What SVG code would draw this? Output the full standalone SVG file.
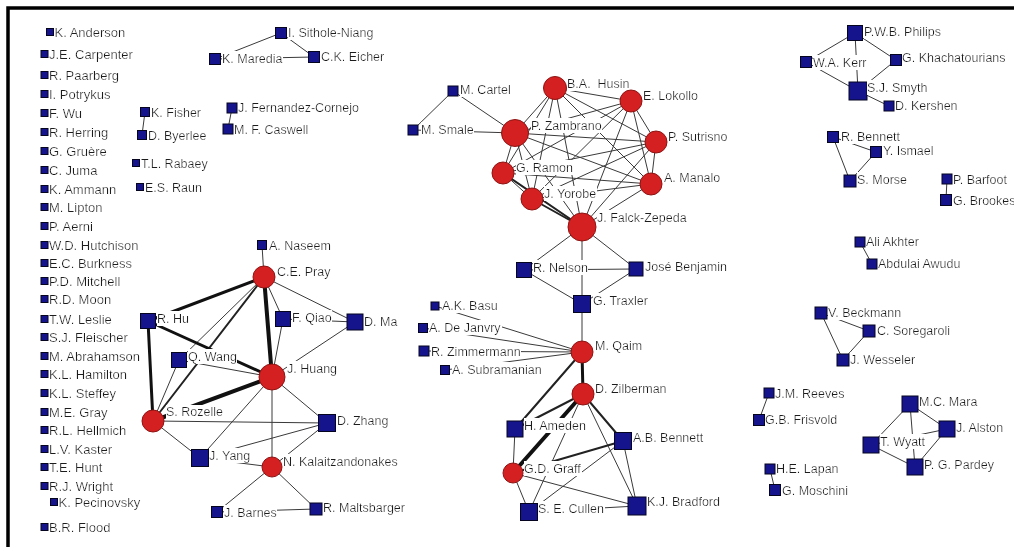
<svg xmlns="http://www.w3.org/2000/svg" width="1014" height="547" viewBox="0 0 1014 547">
<defs>
<filter id="tb" x="0" y="0.02" width="1" height="0.96"><feFlood flood-color="#fff"/><feComposite in="SourceGraphic"/></filter>
</defs>
<style>
.sq{fill:#16148c;stroke:#050520;stroke-width:1}
.ci{fill:#d42020;stroke:#8e1414;stroke-width:1}
text{font-family:"Liberation Sans",Arial,sans-serif;font-size:12.5px;fill:#1e1e1e;white-space:pre;filter:url(#tb)}
.lc text{font-size:13px}
#edges line{stroke:#3a3a3a;stroke-width:1;stroke-linecap:round}
#edges line.w2{stroke:#222;stroke-width:2}
#edges line.w3{stroke:#111;stroke-width:3}
#edges line.w4{stroke:#111;stroke-width:4}
.frame{stroke:#000;stroke-width:3.5;fill:none}
</style>
<rect width="1014" height="547" fill="#fff"/>
<path class="frame" d="M8 547 V8 H1014"/>
<g id="edges">
<line x1="281" y1="33" x2="215" y2="59"/>
<line x1="281" y1="33" x2="314" y2="57"/>
<line x1="215" y1="59" x2="314" y2="57"/>
<line x1="145" y1="112" x2="142" y2="135"/>
<line x1="232" y1="108" x2="228" y2="129"/>
<line x1="262" y1="245" x2="264" y2="277"/>
<line class="w3" x1="264" y1="277" x2="148" y2="321"/>
<line x1="264" y1="277" x2="179" y2="360"/>
<line class="w2" x1="264" y1="277" x2="153" y2="421"/>
<line class="w4" x1="264" y1="277" x2="272" y2="377"/>
<line x1="264" y1="277" x2="283" y2="319"/>
<line x1="264" y1="277" x2="355" y2="322"/>
<line x1="283" y1="319" x2="355" y2="322"/>
<line x1="283" y1="319" x2="272" y2="377"/>
<line x1="355" y1="322" x2="272" y2="377"/>
<line class="w3" x1="148" y1="321" x2="272" y2="377"/>
<line class="w3" x1="148" y1="321" x2="153" y2="421"/>
<line x1="179" y1="360" x2="153" y2="421"/>
<line x1="179" y1="360" x2="272" y2="377"/>
<line class="w4" x1="272" y1="377" x2="153" y2="421"/>
<line x1="272" y1="377" x2="200" y2="458"/>
<line x1="272" y1="377" x2="327" y2="423"/>
<line x1="272" y1="377" x2="272" y2="467"/>
<line x1="153" y1="421" x2="327" y2="423"/>
<line x1="153" y1="421" x2="200" y2="458"/>
<line x1="327" y1="423" x2="200" y2="458"/>
<line x1="327" y1="423" x2="272" y2="467"/>
<line x1="200" y1="458" x2="272" y2="467"/>
<line x1="272" y1="467" x2="217" y2="512"/>
<line x1="272" y1="467" x2="316" y2="509"/>
<line x1="217" y1="512" x2="316" y2="509"/>
<line x1="453" y1="91" x2="413" y2="130"/>
<line x1="453" y1="91" x2="515" y2="133"/>
<line x1="413" y1="130" x2="515" y2="133"/>
<line x1="555" y1="88" x2="631" y2="101"/>
<line x1="555" y1="88" x2="515" y2="133"/>
<line x1="555" y1="88" x2="656" y2="142"/>
<line x1="555" y1="88" x2="503" y2="173"/>
<line x1="555" y1="88" x2="651" y2="184"/>
<line x1="555" y1="88" x2="532" y2="199"/>
<line x1="555" y1="88" x2="582" y2="227"/>
<line x1="631" y1="101" x2="515" y2="133"/>
<line x1="631" y1="101" x2="656" y2="142"/>
<line x1="631" y1="101" x2="503" y2="173"/>
<line x1="631" y1="101" x2="651" y2="184"/>
<line x1="631" y1="101" x2="532" y2="199"/>
<line x1="631" y1="101" x2="582" y2="227"/>
<line x1="515" y1="133" x2="656" y2="142"/>
<line x1="515" y1="133" x2="503" y2="173"/>
<line x1="515" y1="133" x2="651" y2="184"/>
<line x1="515" y1="133" x2="532" y2="199"/>
<line x1="515" y1="133" x2="582" y2="227"/>
<line x1="656" y1="142" x2="503" y2="173"/>
<line x1="656" y1="142" x2="651" y2="184"/>
<line x1="656" y1="142" x2="532" y2="199"/>
<line x1="656" y1="142" x2="582" y2="227"/>
<line x1="503" y1="173" x2="651" y2="184"/>
<line x1="503" y1="173" x2="532" y2="199"/>
<line class="w2" x1="503" y1="173" x2="582" y2="227"/>
<line x1="651" y1="184" x2="532" y2="199"/>
<line x1="651" y1="184" x2="582" y2="227"/>
<line class="w2" x1="532" y1="199" x2="582" y2="227"/>
<line x1="582" y1="227" x2="524" y2="270"/>
<line x1="582" y1="227" x2="636" y2="269"/>
<line x1="582" y1="227" x2="582" y2="304"/>
<line x1="524" y1="270" x2="636" y2="269"/>
<line x1="524" y1="270" x2="582" y2="304"/>
<line x1="636" y1="269" x2="582" y2="304"/>
<line x1="582" y1="304" x2="582" y2="352"/>
<line x1="435" y1="306" x2="582" y2="352"/>
<line x1="423" y1="328" x2="582" y2="352"/>
<line x1="424" y1="351" x2="582" y2="352"/>
<line x1="445" y1="370" x2="582" y2="352"/>
<line class="w3" x1="582" y1="352" x2="583" y2="394"/>
<line class="w2" x1="582" y1="352" x2="515" y2="429"/>
<line class="w2" x1="583" y1="394" x2="515" y2="429"/>
<line class="w4" x1="583" y1="394" x2="513" y2="473"/>
<line class="w2" x1="583" y1="394" x2="623" y2="441"/>
<line x1="583" y1="394" x2="637" y2="506"/>
<line x1="583" y1="394" x2="529" y2="512"/>
<line x1="515" y1="429" x2="513" y2="473"/>
<line class="w2" x1="623" y1="441" x2="513" y2="473"/>
<line x1="623" y1="441" x2="529" y2="512"/>
<line x1="623" y1="441" x2="637" y2="506"/>
<line x1="513" y1="473" x2="529" y2="512"/>
<line x1="513" y1="473" x2="637" y2="506"/>
<line x1="529" y1="512" x2="637" y2="506"/>
<line x1="855" y1="33" x2="806" y2="62"/>
<line x1="855" y1="33" x2="896" y2="60"/>
<line x1="855" y1="33" x2="858" y2="91"/>
<line x1="806" y1="62" x2="858" y2="91"/>
<line x1="896" y1="60" x2="858" y2="91"/>
<line x1="858" y1="91" x2="889" y2="106"/>
<line x1="833" y1="137" x2="876" y2="152"/>
<line x1="833" y1="137" x2="850" y2="181"/>
<line x1="876" y1="152" x2="850" y2="181"/>
<line x1="947" y1="179" x2="946" y2="200"/>
<line x1="860" y1="242" x2="872" y2="264"/>
<line x1="821" y1="313" x2="869" y2="331"/>
<line x1="821" y1="313" x2="843" y2="360"/>
<line x1="869" y1="331" x2="843" y2="360"/>
<line x1="769" y1="393" x2="759" y2="420"/>
<line x1="770" y1="469" x2="775" y2="490"/>
<line x1="910" y1="404" x2="947" y2="429"/>
<line x1="910" y1="404" x2="871" y2="445"/>
<line x1="910" y1="404" x2="915" y2="467"/>
<line x1="871" y1="445" x2="915" y2="467"/>
<line x1="947" y1="429" x2="915" y2="467"/>
<line x1="947" y1="429" x2="871" y2="445"/>
</g>
<g class="lc">
<g id="n-anderson"><rect class="sq" x="46.5" y="28.5" width="7" height="7"/><text x="54.5" y="37">K. Anderson</text></g>
<g id="n-carpenter"><rect class="sq" x="41" y="50.5" width="7" height="7"/><text x="49" y="59">J.E. Carpenter</text></g>
<g id="n-paarberg"><rect class="sq" x="41" y="71.5" width="7" height="7"/><text x="49" y="80">R. Paarberg</text></g>
<g id="n-potrykus"><rect class="sq" x="41" y="90.5" width="7" height="7"/><text x="49" y="99">I. Potrykus</text></g>
<g id="n-wu"><rect class="sq" x="41" y="109.5" width="7" height="7"/><text x="49" y="118">F. Wu</text></g>
<g id="n-herring"><rect class="sq" x="41" y="128.5" width="7" height="7"/><text x="49" y="137">R. Herring</text></g>
<g id="n-gruere"><rect class="sq" x="41" y="147.5" width="7" height="7"/><text x="49" y="156">G. Gruère</text></g>
<g id="n-juma"><rect class="sq" x="41" y="166.5" width="7" height="7"/><text x="49" y="175">C. Juma</text></g>
<g id="n-ammann"><rect class="sq" x="41" y="185.5" width="7" height="7"/><text x="49" y="194">K. Ammann</text></g>
<g id="n-lipton"><rect class="sq" x="41" y="203.5" width="7" height="7"/><text x="49" y="212">M. Lipton</text></g>
<g id="n-aerni"><rect class="sq" x="41" y="222.5" width="7" height="7"/><text x="49" y="231">P. Aerni</text></g>
<g id="n-hutchison"><rect class="sq" x="41" y="241.5" width="7" height="7"/><text x="49" y="250">W.D. Hutchison</text></g>
<g id="n-burkness"><rect class="sq" x="41" y="259.5" width="7" height="7"/><text x="49" y="268">E.C. Burkness</text></g>
<g id="n-mitchell"><rect class="sq" x="41" y="277.5" width="7" height="7"/><text x="49" y="286">P.D. Mitchell</text></g>
<g id="n-moon"><rect class="sq" x="41" y="295.5" width="7" height="7"/><text x="49" y="304">R.D. Moon</text></g>
<g id="n-leslie"><rect class="sq" x="41" y="315.5" width="7" height="7"/><text x="49" y="324">T.W. Leslie</text></g>
<g id="n-fleischer"><rect class="sq" x="41" y="333.5" width="7" height="7"/><text x="49" y="342">S.J. Fleischer</text></g>
<g id="n-abrahamson"><rect class="sq" x="41" y="352.5" width="7" height="7"/><text x="49" y="361">M. Abrahamson</text></g>
<g id="n-hamilton"><rect class="sq" x="41" y="370.5" width="7" height="7"/><text x="49" y="379">K.L. Hamilton</text></g>
<g id="n-steffey"><rect class="sq" x="41" y="389.5" width="7" height="7"/><text x="49" y="398">K.L. Steffey</text></g>
<g id="n-gray"><rect class="sq" x="41" y="408.5" width="7" height="7"/><text x="49" y="417">M.E. Gray</text></g>
<g id="n-hellmich"><rect class="sq" x="41" y="426.5" width="7" height="7"/><text x="49" y="435">R.L. Hellmich</text></g>
<g id="n-kaster"><rect class="sq" x="41" y="445.5" width="7" height="7"/><text x="49" y="454">L.V. Kaster</text></g>
<g id="n-hunt"><rect class="sq" x="41" y="463.5" width="7" height="7"/><text x="49" y="472">T.E. Hunt</text></g>
<g id="n-wright"><rect class="sq" x="41" y="482.5" width="7" height="7"/><text x="49" y="491">R.J. Wright</text></g>
<g id="n-pecinovsky"><rect class="sq" x="50.5" y="498.5" width="7" height="7"/><text x="58.5" y="507">K. Pecinovsky</text></g>
<g id="n-flood"><rect class="sq" x="41" y="523.5" width="7" height="7"/><text x="49" y="532">B.R. Flood</text></g>
</g>
<g id="n-fisher"><rect class="sq" x="140.5" y="107.5" width="9" height="9"/><text x="151" y="116.5">K. Fisher</text></g>
<g id="n-byerlee"><rect class="sq" x="137.5" y="130.5" width="9" height="9"/><text x="148" y="139.5">D. Byerlee</text></g>
<g id="n-rabaey"><rect class="sq" x="132.5" y="159.5" width="7" height="7"/><text x="141" y="167.5">T.L. Rabaey</text></g>
<g id="n-raun"><rect class="sq" x="136.5" y="183.5" width="7" height="7"/><text x="145" y="191.5">E.S. Raun</text></g>
<g id="n-sithole"><rect class="sq" x="275.5" y="27.5" width="11" height="11"/><text x="288" y="36.5">I. Sithole-Niang</text></g>
<g id="n-maredia"><rect class="sq" x="209.5" y="53.5" width="11" height="11"/><text x="222" y="62.5">K. Maredia</text></g>
<g id="n-eicher"><rect class="sq" x="308.5" y="51.5" width="11" height="11"/><text x="321" y="60.5">C.K. Eicher</text></g>
<g id="n-fernandez"><rect class="sq" x="227" y="103" width="10" height="10"/><text x="238" y="111.5">J. Fernandez-Cornejo</text></g>
<g id="n-caswell"><rect class="sq" x="223" y="124" width="10" height="10"/><text x="234" y="133.5">M. F. Caswell</text></g>
<g id="n-naseem"><rect class="sq" x="257.5" y="240.5" width="9" height="9"/><text x="269" y="249.5">A. Naseem</text></g>
<g id="n-pray"><circle class="ci" cx="264" cy="277" r="11"/><text x="277" y="275.5">C.E. Pray</text></g>
<g id="n-hu"><rect class="sq" x="140.5" y="313.5" width="15" height="15"/><text x="157" y="322.5">R. Hu</text></g>
<g id="n-qiao"><rect class="sq" x="275.5" y="311.5" width="15" height="15"/><text x="292" y="321.5">F. Qiao</text></g>
<g id="n-ma"><rect class="sq" x="347" y="314" width="16" height="16"/><text x="364" y="325.5">D. Ma</text></g>
<g id="n-wang"><rect class="sq" x="171.5" y="352.5" width="15" height="15"/><text x="188" y="360.5">Q. Wang</text></g>
<g id="n-huang"><circle class="ci" cx="272" cy="377" r="13"/><text x="287" y="372.5">J. Huang</text></g>
<g id="n-rozelle"><circle class="ci" cx="153" cy="421" r="11"/><text x="166" y="416">S. Rozelle</text></g>
<g id="n-zhang"><rect class="sq" x="318.5" y="414.5" width="17" height="17"/><text x="337" y="424.5">D. Zhang</text></g>
<g id="n-yang"><rect class="sq" x="191.5" y="449.5" width="17" height="17"/><text x="209" y="459.5">J. Yang</text></g>
<g id="n-kalaitzandonakes"><circle class="ci" cx="272" cy="467" r="10"/><text x="283" y="465.5">N. Kalaitzandonakes</text></g>
<g id="n-barnes"><rect class="sq" x="211.5" y="506.5" width="11" height="11"/><text x="224" y="516.5">J. Barnes</text></g>
<g id="n-maltsbarger"><rect class="sq" x="310" y="503" width="12" height="12"/><text x="323" y="511.5">R. Maltsbarger</text></g>
<g id="n-cartel"><rect class="sq" x="448" y="86" width="10" height="10"/><text x="460" y="93.5">M. Cartel</text></g>
<g id="n-smale"><rect class="sq" x="408" y="125" width="10" height="10"/><text x="421" y="133.5">M. Smale</text></g>
<g id="n-husin"><circle class="ci" cx="555" cy="88" r="11.5"/><text x="567" y="87.5">B.A.  Husin</text></g>
<g id="n-lokollo"><circle class="ci" cx="631" cy="101" r="11"/><text x="643" y="99.5">E. Lokollo</text></g>
<g id="n-zambrano"><circle class="ci" cx="515" cy="133" r="13.5"/><text x="531" y="129.5">P. Zambrano</text></g>
<g id="n-sutrisno"><circle class="ci" cx="656" cy="142" r="11"/><text x="668" y="140.5">P. Sutrisno</text></g>
<g id="n-ramon"><circle class="ci" cx="503" cy="173" r="11"/><text x="516" y="171.5">G. Ramon</text></g>
<g id="n-manalo"><circle class="ci" cx="651" cy="184" r="11"/><text x="664" y="181.5">A. Manalo</text></g>
<g id="n-yorobe"><circle class="ci" cx="532" cy="199" r="11"/><text x="544" y="197.5">J. Yorobe</text></g>
<g id="n-falck"><circle class="ci" cx="582" cy="227" r="14"/><text x="597" y="221.5">J. Falck-Zepeda</text></g>
<g id="n-nelson"><rect class="sq" x="516.5" y="262.5" width="15" height="15"/><text x="533" y="271.5">R. Nelson</text></g>
<g id="n-benjamin"><rect class="sq" x="629" y="262" width="14" height="14"/><text x="645" y="270.5">José Benjamin</text></g>
<g id="n-traxler"><rect class="sq" x="573.5" y="295.5" width="17" height="17"/><text x="593" y="304.5">G. Traxler</text></g>
<g id="n-basu"><rect class="sq" x="431" y="302" width="8" height="8"/><text x="442" y="309.5">A.K. Basu</text></g>
<g id="n-dejanvry"><rect class="sq" x="418.5" y="323.5" width="9" height="9"/><text x="429" y="331.5">A. De Janvry</text></g>
<g id="n-zimmermann"><rect class="sq" x="419" y="346" width="10" height="10"/><text x="431" y="355.5">R. Zimmermann</text></g>
<g id="n-subramanian"><rect class="sq" x="440.5" y="365.5" width="9" height="9"/><text x="452" y="373.5">A. Subramanian</text></g>
<g id="n-qaim"><circle class="ci" cx="582" cy="352" r="11"/><text x="595" y="349.5">M. Qaim</text></g>
<g id="n-zilberman"><circle class="ci" cx="583" cy="394" r="11"/><text x="595" y="392.5">D. Zilberman</text></g>
<g id="n-ameden"><rect class="sq" x="507" y="421" width="16" height="16"/><text x="524" y="429.5">H. Ameden</text></g>
<g id="n-abbennett"><rect class="sq" x="614.5" y="432.5" width="17" height="17"/><text x="633" y="441.5">A.B. Bennett</text></g>
<g id="n-graff"><circle class="ci" cx="513" cy="473" r="10"/><text x="524" y="472.5">G.D. Graff</text></g>
<g id="n-cullen"><rect class="sq" x="520.5" y="503.5" width="17" height="17"/><text x="538" y="512.5">S. E. Cullen</text></g>
<g id="n-bradford"><rect class="sq" x="628" y="497" width="18" height="18"/><text x="647" y="505.5">K.J. Bradford</text></g>
<g id="n-philips"><rect class="sq" x="847.5" y="25.5" width="15" height="15"/><text x="864" y="35.5">P.W.B. Philips</text></g>
<g id="n-kerr"><rect class="sq" x="800.5" y="56.5" width="11" height="11"/><text x="813" y="66.5">W.A. Kerr</text></g>
<g id="n-khachatourians"><rect class="sq" x="890.5" y="54.5" width="11" height="11"/><text x="902" y="61.5">G. Khachatourians</text></g>
<g id="n-smyth"><rect class="sq" x="849" y="82" width="18" height="18"/><text x="867" y="91.5">S.J. Smyth</text></g>
<g id="n-kershen"><rect class="sq" x="884" y="101" width="10" height="10"/><text x="895" y="109.5">D. Kershen</text></g>
<g id="n-rbennett"><rect class="sq" x="827.5" y="131.5" width="11" height="11"/><text x="841" y="140.5">R. Bennett</text></g>
<g id="n-ismael"><rect class="sq" x="870.5" y="146.5" width="11" height="11"/><text x="883" y="154.5">Y. Ismael</text></g>
<g id="n-morse"><rect class="sq" x="844" y="175" width="12" height="12"/><text x="857" y="183.5">S. Morse</text></g>
<g id="n-barfoot"><rect class="sq" x="942" y="174" width="10" height="10"/><text x="953" y="183.5">P. Barfoot</text></g>
<g id="n-brookes"><rect class="sq" x="940.5" y="194.5" width="11" height="11"/><text x="953" y="204.5">G. Brookes</text></g>
<g id="n-akhter"><rect class="sq" x="855" y="237" width="10" height="10"/><text x="866" y="245.5">Ali Akhter</text></g>
<g id="n-awudu"><rect class="sq" x="867" y="259" width="10" height="10"/><text x="878" y="267.5">Abdulai Awudu</text></g>
<g id="n-beckmann"><rect class="sq" x="815" y="307" width="12" height="12"/><text x="828" y="316.5">V. Beckmann</text></g>
<g id="n-soregaroli"><rect class="sq" x="863" y="325" width="12" height="12"/><text x="877" y="334.5">C. Soregaroli</text></g>
<g id="n-wesseler"><rect class="sq" x="837" y="354" width="12" height="12"/><text x="850" y="363.5">J. Wesseler</text></g>
<g id="n-reeves"><rect class="sq" x="764" y="388" width="10" height="10"/><text x="775" y="397.5">J.M. Reeves</text></g>
<g id="n-frisvold"><rect class="sq" x="753.5" y="414.5" width="11" height="11"/><text x="765" y="423.5">G.B. Frisvold</text></g>
<g id="n-lapan"><rect class="sq" x="765" y="464" width="10" height="10"/><text x="776" y="472.5">H.E. Lapan</text></g>
<g id="n-moschini"><rect class="sq" x="769.5" y="484.5" width="11" height="11"/><text x="782" y="494.5">G. Moschini</text></g>
<g id="n-mara"><rect class="sq" x="902" y="396" width="16" height="16"/><text x="919" y="405.5">M.C. Mara</text></g>
<g id="n-alston"><rect class="sq" x="939" y="421" width="16" height="16"/><text x="956" y="431.5">J. Alston</text></g>
<g id="n-wyatt"><rect class="sq" x="863" y="437" width="16" height="16"/><text x="880" y="445.5">T. Wyatt</text></g>
<g id="n-pardey"><rect class="sq" x="907" y="459" width="16" height="16"/><text x="924" y="468.5">P. G. Pardey</text></g>
</svg>
